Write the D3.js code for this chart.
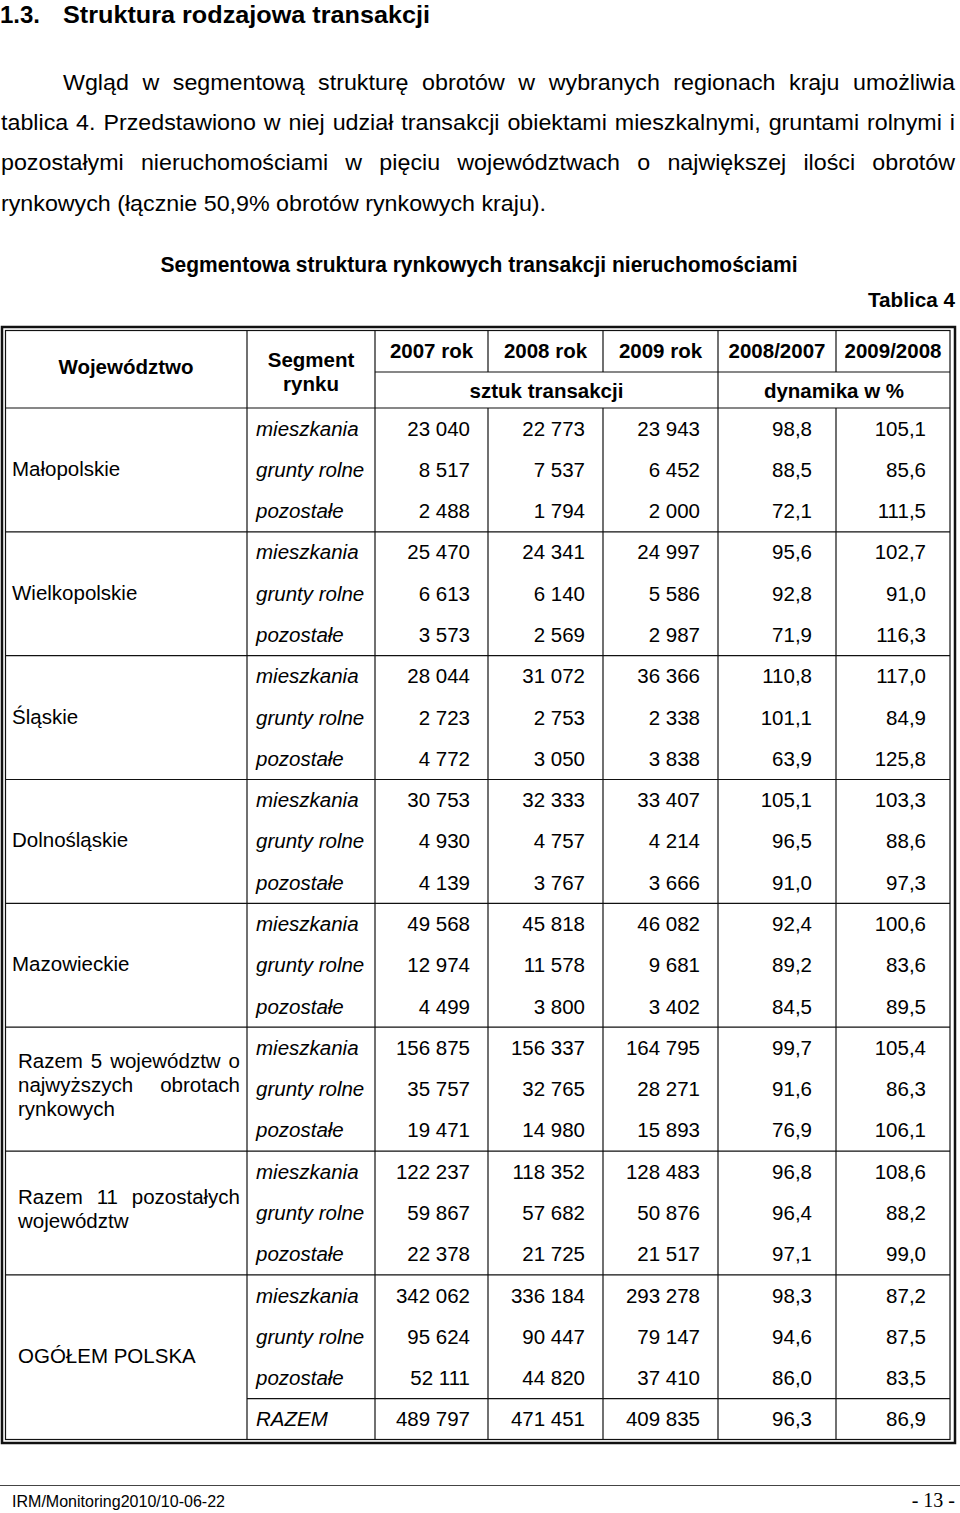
<!DOCTYPE html>
<html><head><meta charset="utf-8">
<script src="https://cdn.jsdelivr.net/npm/d3@7"></script>
<style>body{margin:0;background:#fff} svg{display:block}</style>
</head><body><svg id="c" width="960" height="1513"></svg>
<script>
// ---------- DATA ----------
const sectionNo = "1.3.";
const sectionTitle = "Struktura rodzajowa transakcji";
const paragraphLines = [
  "Wgląd w segmentową strukturę obrotów w wybranych regionach kraju umożliwia",
  "tablica 4. Przedstawiono w niej udział transakcji obiektami mieszkalnymi, gruntami rolnymi i",
  "pozostałymi nieruchomościami w pięciu województwach o największej ilości obrotów",
  "rynkowych (łącznie 50,9% obrotów rynkowych kraju)."
];
const tableTitle = "Segmentowa struktura rynkowych transakcji nieruchomościami";
const tableLabel = "Tablica 4";
const headRegion = "Województwo";
const headSegment = ["Segment", "rynku"];
const yearHeaders = ["2007 rok", "2008 rok", "2009 rok"];
const dynHeaders = ["2008/2007", "2009/2008"];
const unitCount = "sztuk transakcji";
const unitDyn = "dynamika w %";
const regionLabels = [
  ["Małopolskie"], ["Wielkopolskie"], ["Śląskie"], ["Dolnośląskie"], ["Mazowieckie"],
  ["Razem 5 województw o", "najwyższych obrotach", "rynkowych"],
  ["Razem 11 pozostałych", "województw"],
  ["OGÓŁEM POLSKA"]
];
const segments = ["mieszkania", "grunty rolne", "pozostałe"];
const totalLabel = "RAZEM";
// one value per row: 7 regions x 3 segments, then Polska x 3 segments + RAZEM
const v2007 = [23040, 8517, 2488, 25470, 6613, 3573, 28044, 2723, 4772, 30753, 4930, 4139, 49568, 12974, 4499, 156875, 35757, 19471, 122237, 59867, 22378, 342062, 95624, 52111, 489797];
const v2008 = [22773, 7537, 1794, 24341, 6140, 2569, 31072, 2753, 3050, 32333, 4757, 3767, 45818, 11578, 3800, 156337, 32765, 14980, 118352, 57682, 21725, 336184, 90447, 44820, 471451];
const v2009 = [23943, 6452, 2000, 24997, 5586, 2987, 36366, 2338, 3838, 33407, 4214, 3666, 46082, 9681, 3402, 164795, 28271, 15893, 128483, 50876, 21517, 293278, 79147, 37410, 409835];
const d0807 = [98.8, 88.5, 72.1, 95.6, 92.8, 71.9, 110.8, 101.1, 63.9, 105.1, 96.5, 91.0, 92.4, 89.2, 84.5, 99.7, 91.6, 76.9, 96.8, 96.4, 97.1, 98.3, 94.6, 86.0, 96.3];
const d0908 = [105.1, 85.6, 111.5, 102.7, 91.0, 116.3, 117.0, 84.9, 125.8, 103.3, 88.6, 97.3, 100.6, 83.6, 89.5, 105.4, 86.3, 106.1, 108.6, 88.2, 99.0, 87.2, 87.5, 83.5, 86.9];
const footerLeft = "IRM/Monitoring2010/10-06-22";
const footerRight = "- 13 -";

// ---------- LAYOUT ----------
const SANS = "'Liberation Sans', Arial, Helvetica, sans-serif";
const SERIF = "'Liberation Serif', 'Times New Roman', serif";
const svg = d3.select("#c");
const loc = d3.formatLocale({decimal: ",", thousands: " ", grouping: [3], currency: ["", ""]});
const fInt = loc.format(",d"), fDyn = loc.format(",.1f");

// rows
const nRows = v2007.length;
const y = d3.scaleBand().domain(d3.range(nRows)).range([408, 1440]);
const bw = y.bandwidth();
// column edges
const colKeys = ["reg", "seg", "c0", "c1", "c2", "c3", "c4", "end"];
const x = d3.scaleOrdinal().domain(colKeys).range([5, 247, 375, 488, 603, 718, 836, 950]);

// region -> row ranges
const groups = regionLabels.map((lab, i) => {
  const start = i * 3;
  const end = i === regionLabels.length - 1 ? nRows - 1 : start + 2;
  return {lab, i, start, end};
});
const rowSeg = d3.range(nRows).map(r => r === nRows - 1 ? totalLabel : segments[r % 3]);

// ---------- helpers ----------
function txt(sel, s, xx, yy, opt = {}) {
  const t = sel.append("text").attr("x", xx).attr("y", yy)
    .attr("font-family", opt.family || SANS)
    .attr("font-size", opt.size || 20)
    .attr("font-weight", opt.weight || "normal")
    .attr("font-style", opt.style || "normal")
    .attr("text-anchor", opt.anchor || "start")
    .attr("fill", "#000").text(s);
  if (opt.len) t.attr("textLength", opt.len).attr("lengthAdjust", "spacingAndGlyphs");
  return t;
}
function justify(sel, line, x0, x1, yy, opt, sx = 1, justified = true) {
  const words = line.split(" ");
  const nodes = words.map(w => txt(sel, w, 0, yy, opt));
  const widths = nodes.map(n => n.node().getComputedTextLength() * sx);
  nodes.forEach((n, k) => { if (sx !== 1) n.attr("textLength", widths[k]).attr("lengthAdjust", "spacingAndGlyphs"); });
  const total = d3.sum(widths);
  const space = (opt.size || 20) * 0.278 * sx;
  const gap = justified && words.length > 1 ? (x1 - x0 - total) / (words.length - 1) : space;
  let cx = x0;
  nodes.forEach((n, k) => { n.attr("x", cx); cx += widths[k] + gap; });
}

// ---------- heading & paragraph ----------
txt(svg, sectionNo, 0, 23, {size: 24, weight: "bold"});
txt(svg, sectionTitle, 63, 23, {size: 24, weight: "bold", len: 367});

const pSize = 22;
const probe = txt(svg, paragraphLines[3], 0, -100, {size: pSize});
const sxP = 545 / probe.node().getComputedTextLength();
probe.remove();
const pBase = [90, 130, 170, 211];
paragraphLines.forEach((l, i) => {
  const last = i === paragraphLines.length - 1;
  justify(svg, l, i === 0 ? 63 : 1, 955, pBase[i], {size: pSize}, sxP, !last);
});

txt(svg, tableTitle, 479, 272, {size: 22, weight: "bold", anchor: "middle", len: 637});
txt(svg, tableLabel, 955, 307, {size: 21, weight: "bold", anchor: "end", len: 87});

// ---------- table lines ----------
const lines = svg.append("g").attr("stroke", "#111").attr("fill", "none");
lines.append("rect").attr("x", 2).attr("y", 327).attr("width", 953).attr("height", 1116).attr("stroke-width", 2.5);
lines.append("rect").attr("x", 5.5).attr("y", 330.5).attr("width", 944.5).attr("height", 1109).attr("stroke-width", 1.2);
function hl(x1, x2, yy) { lines.append("line").attr("x1", x1).attr("x2", x2).attr("y1", yy).attr("y2", yy).attr("stroke-width", 1.2); }
function vl(xx, y1, y2) { lines.append("line").attr("x1", xx).attr("x2", xx).attr("y1", y1).attr("y2", y2).attr("stroke-width", 1.2); }
// header
hl(x("c0"), x("end"), 372);
hl(x("reg"), x("end"), 408);
vl(x("seg"), 330, 1440);
vl(x("c0"), 330, 1440);
["c1", "c2", "c4"].forEach(k => { vl(x(k), 330, 372); vl(x(k), 408, 1440); });
vl(x("c3"), 330, 1440);
// group separators
groups.slice(1).forEach(g => hl(x("reg"), x("end"), y(g.start)));
hl(x("seg"), x("end"), y(nRows - 1));

// ---------- header text ----------
const hd = svg.append("g");
const H = {size: 20.5, weight: "bold"};
txt(hd, headRegion, (x("reg") + x("seg")) / 2, 374, {...H, anchor: "middle"});
txt(hd, headSegment[0], (x("seg") + x("c0")) / 2, 367, {...H, anchor: "middle"});
txt(hd, headSegment[1], (x("seg") + x("c0")) / 2, 391, {...H, anchor: "middle"});
const hCols = ["c0", "c1", "c2", "c3", "c4", "end"];
yearHeaders.concat(dynHeaders).forEach((h, k) => {
  txt(hd, h, (x(hCols[k]) + x(hCols[k + 1])) / 2, 358, {...H, anchor: "middle"});
});
txt(hd, unitCount, (x("c0") + x("c3")) / 2, 398, {...H, anchor: "middle"});
txt(hd, unitDyn, (x("c3") + x("end")) / 2, 398, {...H, anchor: "middle"});

// ---------- body ----------
const body = svg.append("g");
const B = {size: 20.5};
groups.forEach(g => {
  const top = y(g.start), bot = y(g.end) + bw;
  const cy = (top + bot) / 2;
  const n = g.lab.length;
  const x0 = g.i >= 5 ? 18 : 12;
  const off = n === 1 ? 6 : 3;
  g.lab.forEach((l, k) => {
    const yy = cy + off + (k - (n - 1) / 2) * 24;
    if (n > 1 && k < n - 1) justify(body, l, x0, 240, yy, B, 1, true);
    else txt(body, l, x0, yy, B);
  });
});
const base = r => y(r) + bw / 2 + 7;
const rows = d3.range(nRows);
body.selectAll("text.seg").data(rows).join("text").attr("class", "seg")
  .attr("x", x("seg") + 9).attr("y", base)
  .attr("font-family", SANS).attr("font-size", 20.5).attr("font-style", "italic")
  .text(r => rowSeg[r]);
const numCols = [
  {key: "c1", vals: v2007, f: fInt, pad: 18},
  {key: "c2", vals: v2008, f: fInt, pad: 18},
  {key: "c3", vals: v2009, f: fInt, pad: 18},
  {key: "c4", vals: d0807, f: fDyn, pad: 24},
  {key: "end", vals: d0908, f: fDyn, pad: 24}
];
numCols.forEach(c => {
  body.append("g").selectAll("text").data(c.vals).join("text")
    .attr("x", x(c.key) - c.pad).attr("y", (d, r) => base(r))
    .attr("text-anchor", "end").attr("font-family", SANS).attr("font-size", 20.5)
    .text(d => c.f(d));
});

// ---------- footer ----------
svg.append("line").attr("x1", 0).attr("x2", 960).attr("y1", 1485.5).attr("y2", 1485.5).attr("stroke", "#444").attr("stroke-width", 1);
txt(svg, footerLeft, 12, 1507, {size: 17, len: 213});
txt(svg, footerRight, 955, 1507, {size: 20, family: SERIF, anchor: "end"});
</script>
</body></html>
